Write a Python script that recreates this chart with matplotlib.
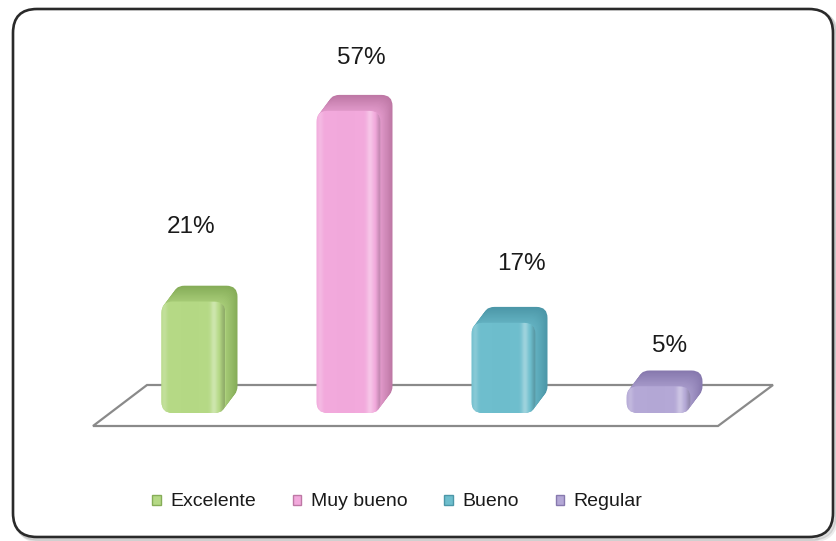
import numpy as np
import matplotlib
matplotlib.use("Agg")
import matplotlib.pyplot as plt
from matplotlib.patches import FancyBboxPatch, Polygon, Patch
from matplotlib.colors import to_rgb
from matplotlib.transforms import ScaledTranslation

# ---- data ----
categories = ["Excelente", "Muy bueno", "Bueno", "Regular"]
values = [21, 57, 17, 5]
value_labels = ["21%", "57%", "17%", "5%"]

# ---- styles ----
face_colors = ["#b5d985", "#f2a9dc", "#6ebecd", "#b4a8d6"]
side_colors = ["#86ad58", "#be78a5", "#4c97a8", "#8779ae"]
FONT = ["Liberation Sans", "DejaVu Sans"]

# ---- layout (pixels at 100 dpi) ----
W, H = 836, 541
X0, STEP = 193.5, 155.0      # centre of the first bar, spacing between bars
BASE, PPU = 413.0, 5.3       # baseline row, pixels per percentage point
BAR_W = 64 / STEP            # front face width in category units
DEPTH_X, DEPTH_Y = 12, 16    # 3-D extrusion offset
RADIUS = 11                  # corner radius of the rounded boxes
# label offsets from the top centre of each bar (pixels)
label_dx = [-2, 13, 18, 11]
label_dy = [75, 53, 59, 41]

fig = plt.figure(figsize=(W / 100, H / 100), dpi=100)
fig.patch.set_facecolor("white")

# background axes in pixel space for the rounded frame
bg = fig.add_axes([0, 0, 1, 1], zorder=0)
bg.set_xlim(0, W)
bg.set_ylim(H, 0)
bg.axis("off")
for off, a in [(5, 0.10), (3.5, 0.15), (2, 0.25)]:
    bg.add_patch(FancyBboxPatch((13 + off, 9 + off), 820, 528,
                                boxstyle="round,pad=0,rounding_size=24",
                                facecolor="none", edgecolor="#808080",
                                linewidth=2.5, alpha=a))
bg.add_patch(FancyBboxPatch((13, 9), 820, 528,
                            boxstyle="round,pad=0,rounding_size=24",
                            facecolor="white", edgecolor="#2a2a2a",
                            linewidth=1.9))

# chart axes: x = category index, y = percentage
ax = fig.add_axes([0, 0, 1, 1], zorder=1)
ax.set_autoscale_on(False)
ax.set_xlim((0 - X0) / STEP, (W - X0) / STEP)
ax.set_ylim((BASE - H) / PPU, BASE / PPU)
ax.axis("off")
ax.patch.set_alpha(0)


def px(xp, yp):
    return ((xp - X0) / STEP, (BASE - yp) / PPU)


# floor plane
floor = [px(93, 426), px(147, 385), px(773, 385), px(718, 426)]
ax.add_patch(Polygon(floor, closed=True, facecolor="white",
                     edgecolor="#8a8a8a", linewidth=1.6, zorder=1))


def rounded(x0, w, h, **kw):
    return FancyBboxPatch((x0, 0), w, h,
                          boxstyle=f"round,pad=0,rounding_size={RADIUS / STEP}",
                          mutation_aspect=STEP / PPU, **kw)


def mix(c1, c2, t):
    a, b = np.array(to_rgb(c1)), np.array(to_rgb(c2))
    return tuple(a + (b - a) * t)


u = np.linspace(0, 1, 240)
shade = (0.18 * np.exp(-((u - 0.05) / 0.045) ** 2)
         + 0.33 * np.exp(-((u - 0.83) / 0.055) ** 2)
         - 0.22 / (1 + np.exp(-(u - 0.95) / 0.02)))

n_steps = 14
for i, (v, fc, sc) in enumerate(zip(values, face_colors, side_colors)):
    x0 = i - BAR_W / 2
    # extruded body: stacked copies from back to front
    for k in range(n_steps, 0, -1):
        t = k / n_steps
        off = ScaledTranslation(t * DEPTH_X / 100, t * DEPTH_Y / 100,
                                fig.dpi_scale_trans)
        col = mix(sc, mix(fc, sc, 0.3), 1 - t)
        p = rounded(x0, BAR_W, v, facecolor=col, edgecolor="none", zorder=2)
        p.set_transform(ax.transData + off)
        ax.add_patch(p)
    # front face with a soft horizontal shading
    front = rounded(x0, BAR_W, v, facecolor=fc, edgecolor="none", zorder=3)
    ax.add_patch(front)
    base = np.array(to_rgb(fc))
    img = np.empty((1, u.size, 3))
    for j, s in enumerate(shade):
        img[0, j] = base + (1 - base) * s if s >= 0 else base * (1 + s)
    im = ax.imshow(np.clip(img, 0, 1), extent=(x0, x0 + BAR_W, 0, v),
                   aspect="auto", interpolation="bilinear", zorder=3.5)
    im.set_clip_path(front)

    ax.annotate(value_labels[i], xy=(i, v),
                xytext=(label_dx[i], label_dy[i]), textcoords="offset pixels",
                ha="center", va="center", fontsize=17.5, family=FONT,
                color="#1a1a1a", zorder=5)

handles = [Patch(facecolor=fc, edgecolor=sc, linewidth=1.0)
           for fc, sc in zip(face_colors, side_colors)]
leg = ax.legend(handles, categories, loc="center",
                bbox_to_anchor=(397.5 / W, 1 - 502 / H),
                bbox_transform=fig.transFigure, ncol=4, frameon=False,
                prop={"family": FONT, "size": 14},
                handlelength=0.42, handleheight=0.42, handletextpad=0.5,
                columnspacing=1.9, borderpad=0)
for t in leg.get_texts():
    t.set_color("#1a1a1a")

fig.savefig("out.png", dpi=100)
